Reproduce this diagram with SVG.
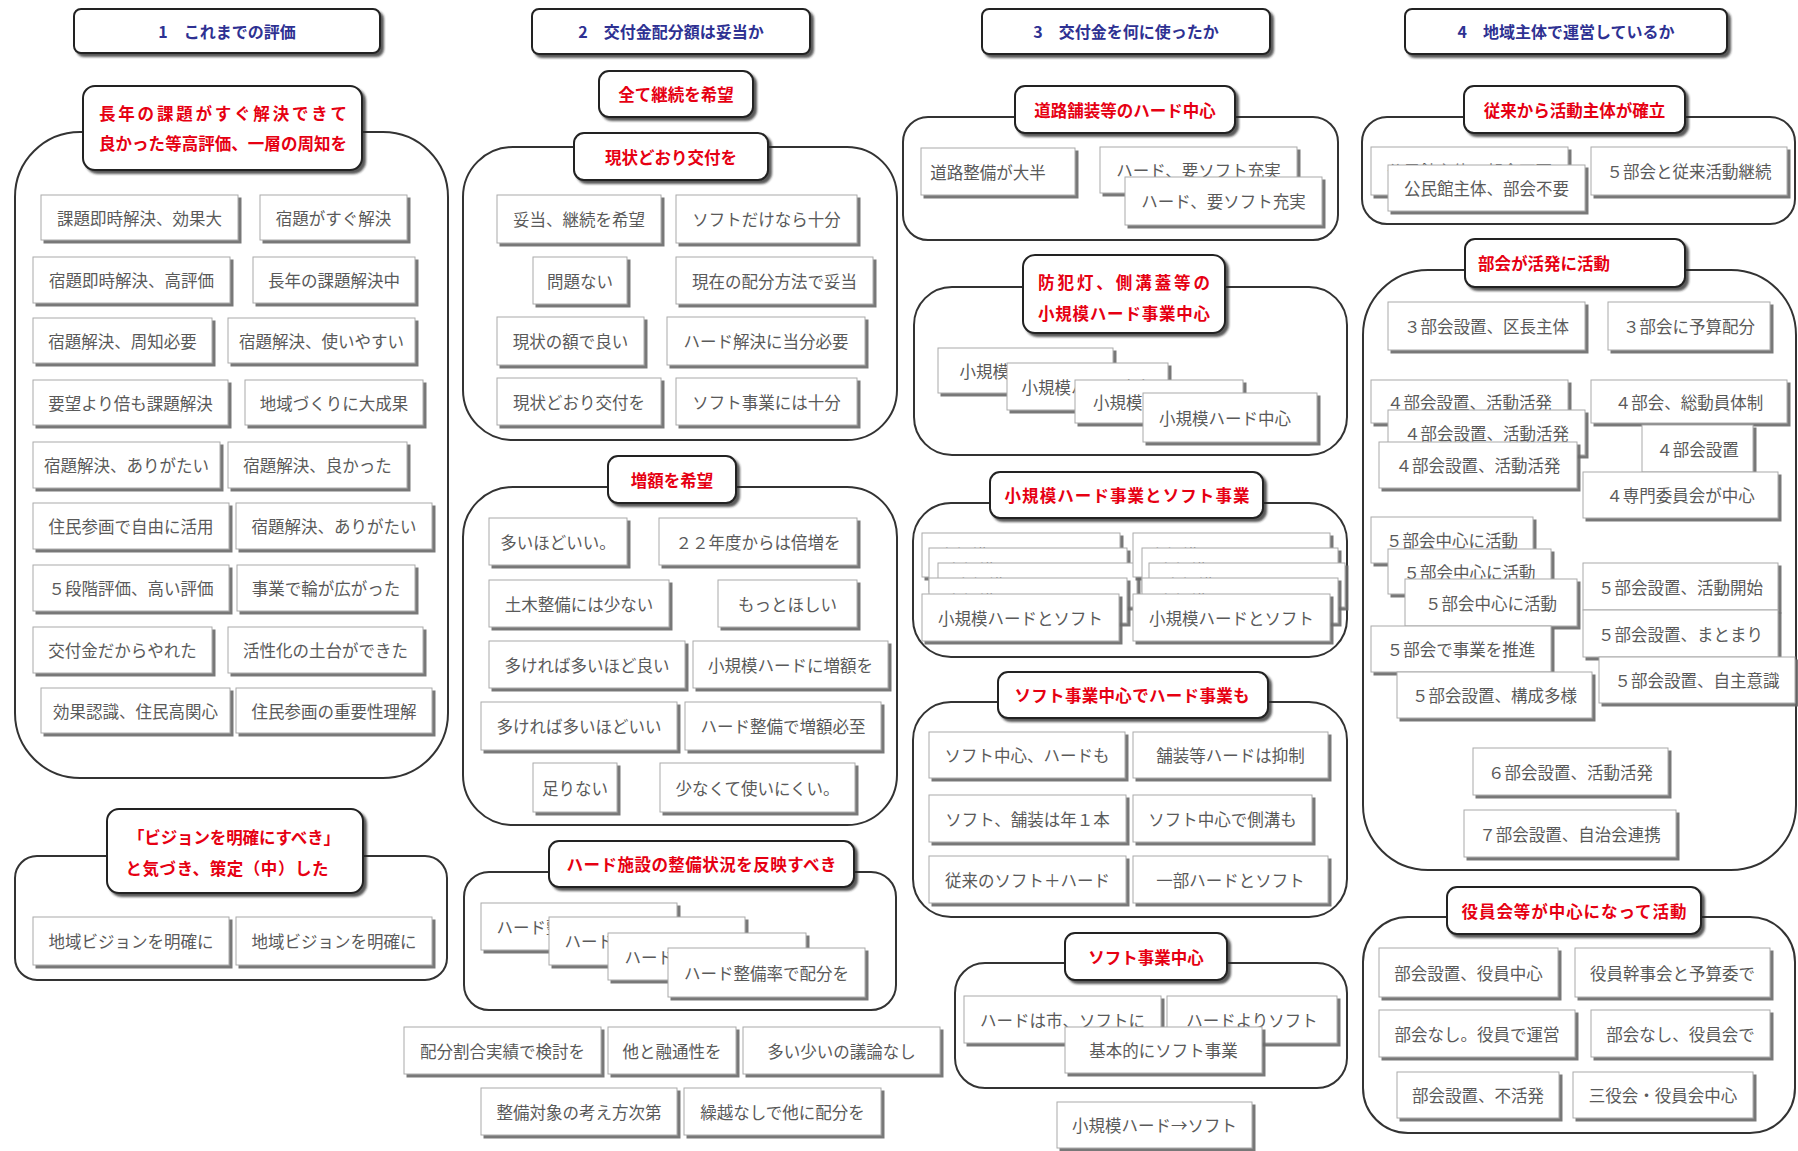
<svg xmlns="http://www.w3.org/2000/svg" width="1798" height="1151" viewBox="0 0 1798 1151">
<defs>
<filter id="sh" x="-5%" y="-10%" width="115%" height="135%"><feDropShadow dx="3" dy="3" stdDeviation="0.6" flood-color="#6a6a6a" flood-opacity="0.9"/></filter>
<filter id="tsh" x="-5%" y="-10%" width="115%" height="135%"><feDropShadow dx="3" dy="3" stdDeviation="0.8" flood-color="#222" flood-opacity="0.75"/></filter>
</defs>
<style>
.ct{fill:#fff;stroke:#333;stroke-width:2}
.hd{fill:#fff;stroke:#222;stroke-width:2;filter:url(#tsh)}
.it{fill:#fff;stroke:#aaa;stroke-width:1;filter:url(#sh)}
.ht{font-family:"Noto Sans CJK JP",sans-serif;font-weight:bold;font-size:16px;fill:#2e3192;text-anchor:middle;dominant-baseline:central}
.rt{font-family:"Noto Sans CJK JP",sans-serif;font-weight:bold;font-size:16.5px;fill:#e60012;text-anchor:middle;dominant-baseline:central}
.t{font-family:"Noto Sans CJK JP",sans-serif;font-size:16.5px;fill:#5a5a5a;text-anchor:middle;dominant-baseline:central}
</style>
<rect width="1798" height="1151" fill="#fff"/>
<g id="connectors"/>

<!-- Headers -->
<g id="h1"><rect class="hd" x="74" y="9" width="306" height="44" rx="7"/><text class="ht" x="227" y="31">1　これまでの評価</text></g>
<g id="h2"><rect class="hd" x="532" y="9" width="278" height="45" rx="7"/><text class="ht" x="671" y="31">2　交付金配分額は妥当か</text></g>
<g id="h3"><rect class="hd" x="982" y="9" width="288" height="45" rx="7"/><text class="ht" x="1126" y="31">3　交付金を何に使ったか</text></g>
<g id="h4"><rect class="hd" x="1405" y="9" width="322" height="45" rx="7"/><text class="ht" x="1566" y="31">4　地域主体で運営しているか</text></g>

<!-- Column 1 -->
<g id="c1a">
<rect class="ct" x="15" y="132" width="433" height="646" rx="65"/>
<rect class="hd" x="83" y="86" width="279" height="84" rx="12"/>
<text class="rt" x="223" y="113" textLength="248" lengthAdjust="spacing">長年の課題がすぐ解決できて</text>
<text class="rt" x="223" y="143" textLength="248" lengthAdjust="spacing">良かった等高評価、一層の周知を</text>
</g>
<g id="a1"><rect class="it" x="41" y="195" width="197" height="45"/><text class="t" x="139.5" y="217.5">課題即時解決、効果大</text></g>
<g id="a2"><rect class="it" x="260" y="195" width="147" height="45"/><text class="t" x="333.5" y="217.5">宿題がすぐ解決</text></g>
<g id="a3"><rect class="it" x="33" y="257" width="197" height="46"/><text class="t" x="131.5" y="280">宿題即時解決、高評価</text></g>
<g id="a4"><rect class="it" x="253" y="257" width="162" height="46"/><text class="t" x="334" y="280">長年の課題解決中</text></g>
<g id="a5"><rect class="it" x="33" y="318" width="179" height="45"/><text class="t" x="122.5" y="340.5">宿題解決、周知必要</text></g>
<g id="a6"><rect class="it" x="228" y="318" width="187" height="45"/><text class="t" x="321.5" y="340.5">宿題解決、使いやすい</text></g>
<g id="a7"><rect class="it" x="33" y="380" width="195" height="45"/><text class="t" x="130.5" y="402.5">要望より倍も課題解決</text></g>
<g id="a8"><rect class="it" x="245" y="380" width="178" height="45"/><text class="t" x="334" y="402.5">地域づくりに大成果</text></g>
<g id="a9"><rect class="it" x="33" y="442" width="187" height="46"/><text class="t" x="126.5" y="465">宿題解決、ありがたい</text></g>
<g id="a10"><rect class="it" x="228" y="442" width="179" height="46"/><text class="t" x="317.5" y="465">宿題解決、良かった</text></g>
<g id="a11"><rect class="it" x="33" y="503" width="196" height="46"/><text class="t" x="131" y="526">住民参画で自由に活用</text></g>
<g id="a12"><rect class="it" x="236" y="503" width="196" height="46"/><text class="t" x="334" y="526">宿題解決、ありがたい</text></g>
<g id="a13"><rect class="it" x="33" y="565" width="196" height="46"/><text class="t" x="131" y="588">５段階評価、高い評価</text></g>
<g id="a14"><rect class="it" x="237" y="565" width="178" height="46"/><text class="t" x="326" y="588">事業で輪が広がった</text></g>
<g id="a15"><rect class="it" x="33" y="627" width="179" height="46"/><text class="t" x="122.5" y="650">交付金だからやれた</text></g>
<g id="a16"><rect class="it" x="228" y="627" width="195" height="46"/><text class="t" x="325.5" y="650">活性化の土台ができた</text></g>
<g id="a17"><rect class="it" x="41" y="688" width="189" height="45"/><text class="t" x="135.5" y="710.5">効果認識、住民高関心</text></g>
<g id="a18"><rect class="it" x="236" y="688" width="196" height="45"/><text class="t" x="334" y="710.5">住民参画の重要性理解</text></g>

<g id="c1b">
<rect class="ct" x="15" y="856" width="432" height="124" rx="22"/>
<rect class="hd" x="107" y="809" width="256" height="84" rx="12"/>
<text class="rt" x="234" y="837" textLength="212" lengthAdjust="spacing">「ビジョンを明確にすべき」</text>
<text class="rt" x="227" y="868" textLength="203" lengthAdjust="spacing">と気づき、策定（中）した</text>
</g>
<g id="a19"><rect class="it" x="33" y="917" width="196" height="48"/><text class="t" x="131" y="941">地域ビジョンを明確に</text></g>
<g id="a20"><rect class="it" x="236" y="917" width="196" height="48"/><text class="t" x="334" y="941">地域ビジョンを明確に</text></g>

<!-- Column 2 -->
<g id="b0"><rect class="hd" x="599" y="71" width="154" height="46" rx="10"/><text class="rt" x="676" y="94">全て継続を希望</text></g>
<g id="c2a">
<rect class="ct" x="463" y="147" width="434" height="293" rx="50"/>
<rect class="hd" x="574" y="133" width="194" height="47" rx="10"/>
<text class="rt" x="671" y="156.5">現状どおり交付を</text>
</g>
<g id="b1"><rect class="it" x="497" y="195" width="164" height="48"/><text class="t" x="579" y="219">妥当、継続を希望</text></g>
<g id="b2"><rect class="it" x="676" y="195" width="181" height="48"/><text class="t" x="766.5" y="219">ソフトだけなら十分</text></g>
<g id="b3"><rect class="it" x="533" y="257" width="94" height="47"/><text class="t" x="580" y="280.5">問題ない</text></g>
<g id="b4"><rect class="it" x="676" y="257" width="197" height="47"/><text class="t" x="774.5" y="280.5">現在の配分方法で妥当</text></g>
<g id="b5"><rect class="it" x="497" y="317" width="147" height="48"/><text class="t" x="570.5" y="341">現状の額で良い</text></g>
<g id="b6"><rect class="it" x="667" y="317" width="198" height="48"/><text class="t" x="766" y="341">ハード解決に当分必要</text></g>
<g id="b7"><rect class="it" x="497" y="378" width="164" height="47"/><text class="t" x="579" y="401.5">現状どおり交付を</text></g>
<g id="b8"><rect class="it" x="676" y="378" width="181" height="47"/><text class="t" x="766.5" y="401.5">ソフト事業には十分</text></g>

<g id="c2b">
<rect class="ct" x="463" y="487" width="434" height="338" rx="50"/>
<rect class="hd" x="608" y="456" width="128" height="47" rx="10"/>
<text class="rt" x="672" y="479.5">増額を希望</text>
</g>
<g id="b9"><rect class="it" x="489" y="518" width="138" height="47"/><text class="t" x="558" y="541.5">多いほどいい。</text></g>
<g id="b10"><rect class="it" x="659" y="518" width="198" height="47"/><text class="t" x="758" y="541.5">２２年度からは倍増を</text></g>
<g id="b11"><rect class="it" x="489" y="580" width="180" height="47"/><text class="t" x="579" y="603.5">土木整備には少ない</text></g>
<g id="b12"><rect class="it" x="718" y="580" width="139" height="47"/><text class="t" x="787.5" y="603.5">もっとほしい</text></g>
<g id="b13"><rect class="it" x="489" y="641" width="196" height="47"/><text class="t" x="587" y="664.5">多ければ多いほど良い</text></g>
<g id="b14"><rect class="it" x="693" y="641" width="195" height="47"/><text class="t" x="790.5" y="664.5">小規模ハードに増額を</text></g>
<g id="b15"><rect class="it" x="481" y="702" width="196" height="48"/><text class="t" x="579" y="726">多ければ多いほどいい</text></g>
<g id="b16"><rect class="it" x="685" y="702" width="196" height="48"/><text class="t" x="783" y="726">ハード整備で増額必至</text></g>
<g id="b17"><rect class="it" x="533" y="763" width="84" height="49"/><text class="t" x="575" y="787.5">足りない</text></g>
<g id="b18"><rect class="it" x="660" y="763" width="195" height="49"/><text class="t" x="757.5" y="787.5">少なくて使いにくい。</text></g>

<g id="c2c">
<rect class="ct" x="464" y="872" width="432" height="138" rx="25"/>
<rect class="hd" x="549" y="841" width="305" height="46" rx="10"/>
<text class="rt" x="701.5" y="864" textLength="270" lengthAdjust="spacing">ハード施設の整備状況を反映すべき</text>
</g>
<g id="b19"><rect class="it" x="481" y="903" width="196" height="47"/><text class="t" x="579" y="926.5">ハード整備率で配分を</text></g>
<g id="b20"><rect class="it" x="549" y="917" width="196" height="48"/><text class="t" x="647" y="941">ハード整備率で配分を</text></g>
<g id="b21"><rect class="it" x="608" y="933" width="198" height="47"/><text class="t" x="707" y="956.5">ハード整備率で配分を</text></g>
<g id="b22"><rect class="it" x="668" y="948" width="197" height="49"/><text class="t" x="766.5" y="972.5">ハード整備率で配分を</text></g>

<g id="b23"><rect class="it" x="404" y="1027" width="197" height="47"/><text class="t" x="502.5" y="1050.5">配分割合実績で検討を</text></g>
<g id="b24"><rect class="it" x="608" y="1027" width="128" height="47"/><text class="t" x="672" y="1050.5">他と融通性を</text></g>
<g id="b25"><rect class="it" x="743" y="1027" width="197" height="47"/><text class="t" x="841.5" y="1050.5">多い少いの議論なし</text></g>
<g id="b26"><rect class="it" x="481" y="1088" width="196" height="47"/><text class="t" x="579" y="1111.5">整備対象の考え方次第</text></g>
<g id="b27"><rect class="it" x="684" y="1088" width="197" height="47"/><text class="t" x="782.5" y="1111.5">繰越なしで他に配分を</text></g>

<!-- Column 3 -->
<g id="c3a">
<rect class="ct" x="903" y="117" width="435" height="123" rx="25"/>
<rect class="hd" x="1015" y="86" width="220" height="47" rx="10"/>
<text class="rt" x="1125" y="109.5">道路舗装等のハード中心</text>
</g>
<g id="d1"><rect class="it" x="921" y="148" width="154" height="47"/><text class="t" x="988" y="171.5">道路整備が大半</text></g>
<g id="d2"><rect class="it" x="1100" y="147" width="197" height="46"/><text class="t" x="1198.5" y="170">ハード、要ソフト充実</text></g>
<g id="d3"><rect class="it" x="1125" y="177" width="197" height="48"/><text class="t" x="1223.5" y="201">ハード、要ソフト充実</text></g>

<g id="c3b">
<rect class="ct" x="914" y="287" width="433" height="168" rx="38"/>
<rect class="hd" x="1023" y="255" width="202" height="78" rx="12"/>
<text class="rt" x="1124" y="282" textLength="172" lengthAdjust="spacing">防犯灯、側溝蓋等の</text>
<text class="rt" x="1124" y="313" textLength="172" lengthAdjust="spacing">小規模ハード事業中心</text>
</g>
<g id="d4"><rect class="it" x="938" y="348" width="175" height="45"/><text class="t" x="1025.5" y="370.5">小規模ハード中心</text></g>
<g id="d5"><rect class="it" x="1007" y="363" width="161" height="47"/><text class="t" x="1087.5" y="386.5">小規模ハード中心</text></g>
<g id="d6"><rect class="it" x="1075" y="380" width="168" height="43"/><text class="t" x="1159" y="401.5">小規模ハード中心</text></g>
<g id="d7"><rect class="it" x="1143" y="393" width="174" height="49"/><text class="t" x="1225" y="417.5">小規模ハード中心</text></g>

<g id="c3c">
<rect class="ct" x="913" y="503" width="434" height="154" rx="38"/>
<rect class="hd" x="990" y="472" width="273" height="46" rx="10"/>
<text class="rt" x="1127" y="495" textLength="245" lengthAdjust="spacing">小規模ハード事業とソフト事業</text>
</g>
<g id="d8"><rect class="it" x="922" y="533" width="198" height="44"/><text class="t" x="1021" y="555">小規模ハードとソフト</text></g>
<g id="d9"><rect class="it" x="929" y="548" width="198" height="44"/><text class="t" x="1028" y="570">小規模ハードとソフト</text></g>
<g id="d10"><rect class="it" x="938" y="563" width="199" height="44"/><text class="t" x="1037.5" y="585">小規模ハードとソフト</text></g>
<g id="d11"><rect class="it" x="929" y="578" width="198" height="45"/><text class="t" x="1028" y="600.5">小規模ハードとソフト</text></g>
<g id="d12"><rect class="it" x="922" y="594" width="197" height="47"/><text class="t" x="1020.5" y="617.5">小規模ハードとソフト</text></g>
<g id="d13"><rect class="it" x="1133" y="533" width="197" height="44"/><text class="t" x="1231.5" y="555">小規模ハードとソフト</text></g>
<g id="d14"><rect class="it" x="1142" y="548" width="196" height="44"/><text class="t" x="1240" y="570">小規模ハードとソフト</text></g>
<g id="d15"><rect class="it" x="1149" y="563" width="196" height="44"/><text class="t" x="1247" y="585">小規模ハードとソフト</text></g>
<g id="d16"><rect class="it" x="1142" y="578" width="196" height="45"/><text class="t" x="1240" y="600.5">小規模ハードとソフト</text></g>
<g id="d17"><rect class="it" x="1133" y="594" width="197" height="47"/><text class="t" x="1231.5" y="617.5">小規模ハードとソフト</text></g>

<g id="c3d">
<rect class="ct" x="913" y="702" width="434" height="215" rx="38"/>
<rect class="hd" x="998" y="672" width="270" height="46" rx="10"/>
<text class="rt" x="1132" y="695" textLength="235" lengthAdjust="spacing">ソフト事業中心でハード事業も</text>
</g>
<g id="d18"><rect class="it" x="929" y="732" width="196" height="46"/><text class="t" x="1027" y="755">ソフト中心、ハードも</text></g>
<g id="d19"><rect class="it" x="1133" y="732" width="195" height="46"/><text class="t" x="1230.5" y="755">舗装等ハードは抑制</text></g>
<g id="d20"><rect class="it" x="929" y="795" width="197" height="47"/><text class="t" x="1027.5" y="818.5">ソフト、舗装は年１本</text></g>
<g id="d21"><rect class="it" x="1133" y="795" width="179" height="47"/><text class="t" x="1222.5" y="818.5">ソフト中心で側溝も</text></g>
<g id="d22"><rect class="it" x="929" y="856" width="197" height="47"/><text class="t" x="1027.5" y="879.5">従来のソフト＋ハード</text></g>
<g id="d23"><rect class="it" x="1133" y="856" width="195" height="47"/><text class="t" x="1230.5" y="879.5">一部ハードとソフト</text></g>

<g id="c3e">
<rect class="ct" x="955" y="963" width="392" height="125" rx="30"/>
<rect class="hd" x="1065" y="933" width="162" height="47" rx="10"/>
<text class="rt" x="1146" y="956.5">ソフト事業中心</text>
</g>
<g id="d24"><rect class="it" x="964" y="996" width="197" height="47"/><text class="t" x="1062.5" y="1019.5">ハードは市、ソフトに</text></g>
<g id="d25"><rect class="it" x="1167" y="996" width="170" height="47"/><text class="t" x="1252" y="1019.5">ハードよりソフト</text></g>
<g id="d26"><rect class="it" x="1065" y="1027" width="197" height="46"/><text class="t" x="1163.5" y="1050">基本的にソフト事業</text></g>
<g id="d27"><rect class="it" x="1057" y="1102" width="195" height="46"/><text class="t" x="1154.5" y="1125">小規模ハード→ソフト</text></g>

<!-- Column 4 -->
<g id="c4a">
<rect class="ct" x="1362" y="117" width="433" height="107" rx="25"/>
<rect class="hd" x="1464" y="86" width="221" height="47" rx="10"/>
<text class="rt" x="1574.5" y="109.5">従来から活動主体が確立</text>
</g>
<g id="e1"><rect class="it" x="1371" y="147" width="197" height="48"/><text class="t" x="1469.5" y="171">公民館主体、部会不要</text></g>
<g id="e2"><rect class="it" x="1388" y="165" width="197" height="46"/><text class="t" x="1486.5" y="188">公民館主体、部会不要</text></g>
<g id="e3"><rect class="it" x="1591" y="147" width="196" height="48"/><text class="t" x="1689" y="171">５部会と従来活動継続</text></g>

<g id="c4b">
<rect class="ct" x="1363" y="270" width="433" height="600" rx="65"/>
<rect class="hd" x="1465" y="239" width="220" height="48" rx="10"/>
<text class="rt" x="1478" y="263" style="text-anchor:start">部会が活発に活動</text>
</g>
<g id="e4"><rect class="it" x="1388" y="302" width="197" height="48"/><text class="t" x="1486.5" y="326">３部会設置、区長主体</text></g>
<g id="e5"><rect class="it" x="1608" y="302" width="162" height="48"/><text class="t" x="1689" y="326">３部会に予算配分</text></g>
<g id="e6"><rect class="it" x="1371" y="380" width="197" height="43"/><text class="t" x="1469.5" y="401.5">４部会設置、活動活発</text></g>
<g id="e7"><rect class="it" x="1591" y="380" width="196" height="43"/><text class="t" x="1689" y="401.5">４部会、総動員体制</text></g>
<g id="e8"><rect class="it" x="1388" y="410" width="197" height="45"/><text class="t" x="1486.5" y="432.5">４部会設置、活動活発</text></g>
<g id="e9"><rect class="it" x="1379" y="442" width="198" height="46"/><text class="t" x="1478" y="465">４部会設置、活動活発</text></g>
<g id="e10"><rect class="it" x="1642" y="425" width="111" height="47"/><text class="t" x="1697.5" y="448.5">４部会設置</text></g>
<g id="e11"><rect class="it" x="1583" y="472" width="195" height="46"/><text class="t" x="1680.5" y="495">４専門委員会が中心</text></g>
<g id="e12"><rect class="it" x="1371" y="517" width="162" height="46"/><text class="t" x="1452" y="540">５部会中心に活動</text></g>
<g id="e13"><rect class="it" x="1388" y="549" width="163" height="45"/><text class="t" x="1469.5" y="571.5">５部会中心に活動</text></g>
<g id="e14"><rect class="it" x="1405" y="579" width="172" height="47"/><text class="t" x="1491" y="602.5">５部会中心に活動</text></g>
<g id="e15"><rect class="it" x="1583" y="563" width="195" height="47"/><text class="t" x="1680.5" y="586.5">５部会設置、活動開始</text></g>
<g id="e16"><rect class="it" x="1583" y="610" width="195" height="47"/><text class="t" x="1680.5" y="633.5">５部会設置、まとまり</text></g>
<g id="e17"><rect class="it" x="1371" y="626" width="180" height="46"/><text class="t" x="1461" y="649">５部会で事業を推進</text></g>
<g id="e18"><rect class="it" x="1599" y="657" width="196" height="46"/><text class="t" x="1697" y="680">５部会設置、自主意識</text></g>
<g id="e19"><rect class="it" x="1397" y="672" width="195" height="46"/><text class="t" x="1494.5" y="695">５部会設置、構成多様</text></g>
<g id="e20"><rect class="it" x="1473" y="748" width="195" height="47"/><text class="t" x="1570.5" y="771.5">６部会設置、活動活発</text></g>
<g id="e21"><rect class="it" x="1464" y="810" width="212" height="47"/><text class="t" x="1570" y="833.5">７部会設置、自治会連携</text></g>

<g id="c4c">
<rect class="ct" x="1363" y="917" width="432" height="216" rx="45"/>
<rect class="hd" x="1447" y="887" width="254" height="47" rx="10"/>
<text class="rt" x="1574" y="910.5" textLength="225" lengthAdjust="spacing">役員会等が中心になって活動</text>
</g>
<g id="e22"><rect class="it" x="1379" y="948" width="179" height="49"/><text class="t" x="1468.5" y="972.5">部会設置、役員中心</text></g>
<g id="e23"><rect class="it" x="1575" y="948" width="195" height="49"/><text class="t" x="1672.5" y="972.5">役員幹事会と予算委で</text></g>
<g id="e24"><rect class="it" x="1379" y="1010" width="196" height="47"/><text class="t" x="1477" y="1033.5">部会なし。役員で運営</text></g>
<g id="e25"><rect class="it" x="1591" y="1010" width="179" height="47"/><text class="t" x="1680.5" y="1033.5">部会なし、役員会で</text></g>
<g id="e26"><rect class="it" x="1397" y="1072" width="162" height="46"/><text class="t" x="1478" y="1095">部会設置、不活発</text></g>
<g id="e27"><rect class="it" x="1573" y="1072" width="180" height="46"/><text class="t" x="1663" y="1095">三役会・役員会中心</text></g>
</svg>
